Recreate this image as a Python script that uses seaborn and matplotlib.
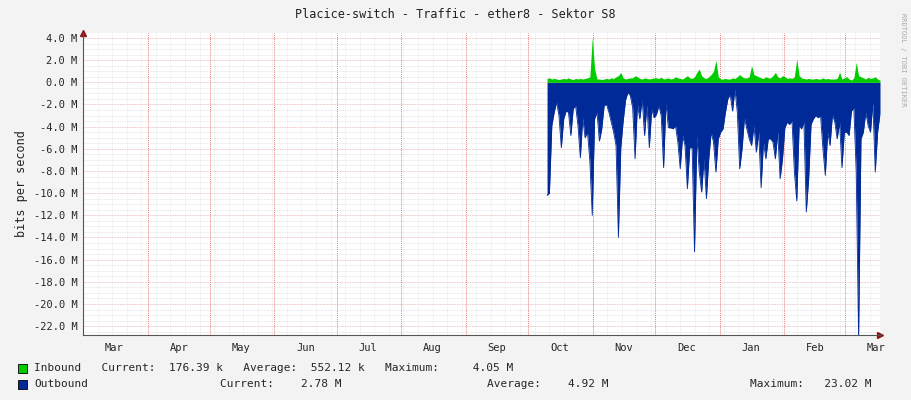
import pandas as pd
import numpy as np
import matplotlib
matplotlib.use('Agg')
import matplotlib.pyplot as plt
import seaborn as sns

# ── DATA (Mbit/s) ─────────────────────────────────────
outbound = [
    -10.2, -10.0, -3.9, -2.7, -1.8, -3.0, -5.9, -3.3, -2.6, -2.7, -4.8, -2.4, -2.1, -3.9,
    -6.8, -3.2, -5.0, -4.5, -7.1, -12.0, -3.3, -2.7, -5.3, -4.2, -2.1, -2.0, -2.7, -3.6,
    -4.5, -5.7, -14.0, -5.9, -3.5, -1.6, -0.9, -1.2, -2.3, -6.9, -2.0, -3.3, -1.5, -4.8,
    -2.0, -5.9, -2.4, -3.2, -2.9, -2.1, -3.0, -7.7, -1.8, -4.1, -4.1, -4.2, -3.9, -5.4,
    -7.8, -4.8, -5.7, -9.6, -5.9, -5.9, -15.3, -4.8, -8.1, -9.9, -6.9, -10.5, -6.9, -4.5,
    -5.4, -8.1, -5.1, -4.5, -4.2, -2.7, -1.5, -1.1, -2.6, -0.6, -2.7, -7.8, -6.0, -3.2,
    -4.2, -5.1, -5.7, -3.9, -6.3, -4.5, -9.5, -5.4, -6.9, -5.1, -5.1, -5.4, -6.9, -4.5,
    -8.7, -6.9, -4.1, -3.6, -3.8, -3.5, -8.1, -10.7, -3.9, -4.2, -3.6, -11.7, -8.7, -3.8,
    -3.3, -3.0, -3.2, -3.0, -6.0, -8.4, -4.5, -5.7, -2.9, -3.6, -5.1, -3.6, -7.7, -4.5,
    -4.5, -4.8, -2.6, -2.3, -8.1, -23.1, -5.1, -4.5, -2.7, -3.9, -4.5, -1.8, -8.1, -4.5,
    -2.8,
]
inbound = [
    0.35, 0.4, 0.3, 0.35, 0.3, 0.25, 0.3, 0.35, 0.3, 0.4, 0.3, 0.25, 0.35, 0.3,
    0.35, 0.3, 0.35, 0.4, 0.5, 4.0, 1.2, 0.3, 0.3, 0.25, 0.3, 0.35, 0.3, 0.4,
    0.35, 0.5, 0.6, 0.9, 0.4, 0.3, 0.35, 0.4, 0.4, 0.6, 0.5, 0.35, 0.3, 0.4,
    0.35, 0.3, 0.35, 0.4, 0.4, 0.35, 0.45, 0.3, 0.35, 0.4, 0.3, 0.35, 0.5, 0.4,
    0.35, 0.3, 0.45, 0.6, 0.4, 0.35, 0.5, 0.9, 1.2, 0.6, 0.4, 0.35, 0.5, 0.7,
    1.0, 2.0, 0.5, 0.3, 0.3, 0.35, 0.3, 0.3, 0.4, 0.35, 0.5, 0.7, 0.5, 0.4,
    0.4, 0.5, 1.5, 0.7, 0.6, 0.5, 0.4, 0.35, 0.5, 0.4, 0.4, 0.6, 0.9, 0.5,
    0.4, 0.6, 0.5, 0.35, 0.4, 0.35, 0.5, 2.1, 0.6, 0.4, 0.35, 0.3, 0.35, 0.3,
    0.3, 0.35, 0.3, 0.3, 0.4, 0.3, 0.35, 0.3, 0.3, 0.3, 0.35, 0.9, 0.3, 0.4,
    0.5, 0.3, 0.2, 0.4, 1.8, 0.6, 0.5, 0.4, 0.3, 0.45, 0.35, 0.4, 0.5, 0.3,
    0.18,
]
data_start, data_end = '2023-10-10', '2024-03-18'
view_start, view_end = '2023-03-01', '2024-03-18'
month_labels = ['Mar', 'Apr', 'May', 'Jun', 'Jul', 'Aug', 'Sep',
                'Oct', 'Nov', 'Dec', 'Jan', 'Feb', 'Mar']

df = pd.DataFrame({
    'time': pd.date_range(data_start, data_end, periods=len(outbound)),
    'outbound': outbound,
    'inbound': inbound,
})

# ── STYLE ──────────────────────────────────────────────
sns.set_style('white')
plt.rcParams['font.family'] = ['DejaVu Sans Mono']
plt.rcParams['font.size'] = 7.5

fig = plt.figure(figsize=(9.11, 4.0), dpi=100, facecolor='#F3F3F3')
ax = fig.add_axes([83 / 911, 1 - 335 / 400, (880 - 83) / 911, (335 - 33) / 400])
ax.set_facecolor('white')

# ── AREAS ──────────────────────────────────────────────
ax.fill_between(df['time'], df['outbound'], 0, color='#002A97', lw=0, zorder=3)
ax.fill_between(df['time'], df['inbound'], 0, color='#00CC00', lw=0, zorder=3)
sns.lineplot(data=df, x='time', y='outbound', ax=ax, color='#002A97', lw=0.6, zorder=4)

# ── AXES / GRID ────────────────────────────────────────
ax.set_xlim(pd.Timestamp(view_start), pd.Timestamp(view_end))
ax.set_ylim(-22.8, 4.45)
ax.set_yticks(np.arange(-22, 5, 2))
ax.set_yticklabels([f'{v:.1f} M' for v in np.arange(-22, 5, 2)])
ax.set_yticks(np.arange(-22.5, 4.5, 0.5), minor=True)

month_starts = pd.date_range(view_start, '2024-03-01', freq='MS')
ax.set_xticks(month_starts)
ax.set_xticklabels([])
mids = month_starts + pd.Timedelta(days=15)
ax.set_xticks(mids, minor=True)
ax.set_xticklabels(month_labels, minor=True)
ax.tick_params(axis='x', which='both', length=0, pad=6)
ax.tick_params(axis='y', which='both', length=0, pad=4)

ax.grid(True, which='minor', axis='y', color='#D8D8D8', ls=(0, (1, 1)), lw=0.5, zorder=1)
ax.grid(True, which='major', axis='y', color='#E8B0B0', ls=(0, (1, 1)), lw=0.6, zorder=1)
for d in pd.date_range('2023-03-08', view_end, freq='7D'):
    ax.axvline(d, color='#E2E2E2', ls=(0, (1, 1)), lw=0.5, zorder=1)
for d in month_starts[1:]:
    ax.axvline(d, color='#E88080', ls=(0, (1, 1)), lw=0.7, zorder=2)

for s in ['top', 'right']:
    ax.spines[s].set_visible(False)
ax.spines['left'].set_color('#555555')
ax.spines['bottom'].set_color('#555555')
ax.plot(1.0, 0, '>', color='#8B1A1A', ms=4, transform=ax.transAxes, clip_on=False)
ax.plot(0, 1.0, '^', color='#8B1A1A', ms=4, transform=ax.transAxes, clip_on=False)
ax.set_ylabel('bits per second', fontsize=8.5, labelpad=4)
ax.set_xlabel('')

# ── TEXT ───────────────────────────────────────────────
fig.text(0.5, 1 - 14 / 400, 'Placice-switch - Traffic - ether8 - Sektor S8',
         ha='center', va='center', fontsize=8.5, color='#222222')
fig.text(903 / 911, 1 - 60 / 400, 'RRDTOOL / TOBI OETIKER', rotation=270,
         ha='center', va='center', fontsize=5, color='#AAAAAA')

fig.patches.append(plt.Rectangle((18 / 911, 1 - 373 / 400), 9 / 911, 9 / 400,
                                 transform=fig.transFigure, fc='#00CC00', ec='black', lw=0.6))
fig.patches.append(plt.Rectangle((18 / 911, 1 - 389 / 400), 9 / 911, 9 / 400,
                                 transform=fig.transFigure, fc='#002A97', ec='black', lw=0.6))
row_y = [1 - 368 / 400, 1 - 384 / 400]
fig.text(34 / 911, row_y[0], 'Inbound   Current:  176.39 k   Average:  552.12 k   Maximum:     4.05 M',
         va='center', fontsize=8)
fig.text(34 / 911, row_y[1], 'Outbound', va='center', fontsize=8)
fig.text(220 / 911, row_y[1], 'Current:    2.78 M', va='center', fontsize=8)
fig.text(487 / 911, row_y[1], 'Average:    4.92 M', va='center', fontsize=8)
fig.text(750 / 911, row_y[1], 'Maximum:   23.02 M', va='center', fontsize=8)

fig.savefig('out.png', dpi=100, facecolor=fig.get_facecolor())
